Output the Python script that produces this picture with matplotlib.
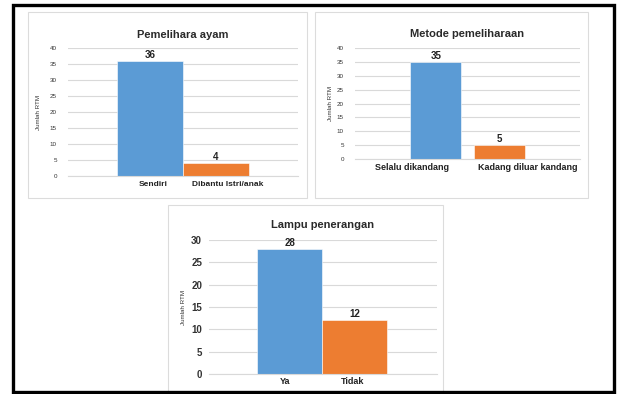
import matplotlib.pyplot as plt
from matplotlib.patches import Rectangle

# Jumlah RTM per kategori
pemelihara_labels = ['Sendiri', 'Dibantu Istri/anak']
pemelihara_values = [36, 4]

metode_labels = ['Selalu dikandang', 'Kadang diluar kandang']
metode_values = [35, 5]

lampu_labels = ['Ya', 'Tidak']
lampu_values = [28, 12]

W, H = 617, 394
BLUE = '#5B9BD5'
ORANGE = '#ED7D31'
GRID = '#D9D9D9'

plt.rcParams['font.family'] = ['Liberation Sans', 'DejaVu Sans']


def px_box(x0, y0, x1, y1):
    """Pixel box (top-left origin) to figure fraction [left, bottom, w, h]."""
    return [x0 / W, 1 - y1 / H, (x1 - x0) / W, (y1 - y0) / H]


def panel(fig, x0, y0, x1, y1):
    fig.patches.append(Rectangle((x0 / W, 1 - y1 / H), (x1 - x0) / W, (y1 - y0) / H,
                                 transform=fig.transFigure, fill=False,
                                 edgecolor='#DCDCDC', linewidth=0.8))


def bar_chart(fig, box, labels, values, width, xlim, ymax, ystep, title, title_y,
              tick_size, xlab_size, val_size, ylab_x, xlab_pad, tick_bold=False,
              xlab_offsets=(0, 0), tick_pad=8):
    ax = fig.add_axes(px_box(*box))
    ax.bar([0, 1], values, width=width, color=[BLUE, ORANGE],
           edgecolor='white', linewidth=0.4, zorder=2)
    for i, v in enumerate(values):
        ax.text(i, v + ymax * 0.01, str(v), ha='center', va='bottom',
                fontsize=val_size, fontweight='bold', color='#222222')
    ax.set_xlim(*xlim)
    ax.set_ylim(0, ymax)
    ax.set_yticks(range(0, ymax + 1, ystep))
    ax.yaxis.grid(True, color=GRID, linewidth=0.8, zorder=0)
    ax.set_axisbelow(True)
    for s in ['top', 'right', 'left']:
        ax.spines[s].set_visible(False)
    ax.spines['bottom'].set_color(GRID)
    ax.tick_params(axis='y', length=0, labelsize=tick_size, labelcolor='#333333',
                   pad=tick_pad)
    if tick_bold:
        for t in ax.get_yticklabels():
            t.set_fontweight('bold')
    ax.set_xticks([])
    for i, lab in enumerate(labels):
        ax.text(i + xlab_offsets[i], -xlab_pad, lab, ha='center', va='top',
                fontsize=xlab_size, fontweight='bold', color='#222222',
                transform=ax.transData)
    ax.set_title(title, fontsize=8, fontweight='bold', color='#2a2a2a', y=title_y)
    ax.text(ylab_x, 0.5, 'Jumlah RTM', rotation=90, ha='center', va='center',
            fontsize=4.5, color='#333333', transform=ax.transAxes)
    return ax


fig = plt.figure(figsize=(W / 100, H / 100), dpi=100)

# Panel frames
panel(fig, 28, 12, 307, 198)
panel(fig, 315, 12, 588, 198)
panel(fig, 168, 205, 443, 400)

bar_chart(fig, (68, 48, 298, 176), pemelihara_labels, pemelihara_values,
          width=1.0, xlim=(-1.24, 2.24), ymax=40, ystep=5,
          title='Pemelihara ayam', title_y=1.01, tick_size=4.5, xlab_size=6,
          val_size=7, ylab_x=-0.13, xlab_pad=1.6, xlab_offsets=(0.05, 0.18))

bar_chart(fig, (355, 48, 580, 159), metode_labels, metode_values,
          width=0.8, xlim=(-1.27, 2.27), ymax=40, ystep=5,
          title='Metode pemeliharaan', title_y=1.025, tick_size=4.5, xlab_size=6.5,
          val_size=7, ylab_x=-0.11, xlab_pad=1.6, xlab_offsets=(-0.38, 0.45))

bar_chart(fig, (209, 240, 437, 374), lampu_labels, lampu_values,
          width=1.0, xlim=(-1.24, 2.26), ymax=30, ystep=5,
          title='Lampu penerangan', title_y=1.03, tick_size=7, xlab_size=6.5,
          val_size=7, ylab_x=-0.11, xlab_pad=0.6, tick_bold=True,
          xlab_offsets=(-0.07, -0.03), tick_pad=5)

# Outer black frame
fig.patches.append(Rectangle((12.5 / W, 1 - 392 / H), 601 / W, 387 / H,
                             transform=fig.transFigure, fill=False,
                             edgecolor='black', linewidth=2.4))

fig.savefig('out.png', dpi=100)
